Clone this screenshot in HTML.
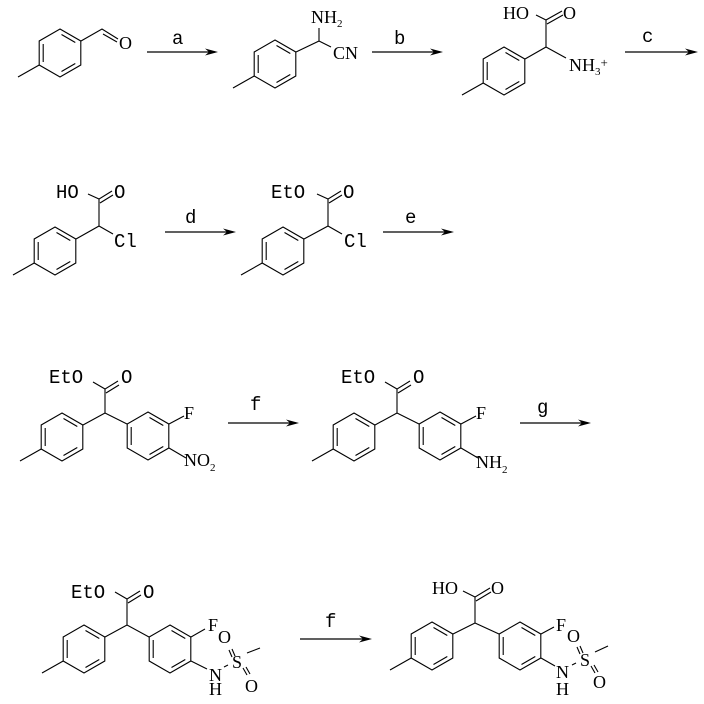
<!DOCTYPE html>
<html><head><meta charset="utf-8"><style>
html,body{margin:0;padding:0;background:#fff}
svg{display:block}
text{font-family:"Liberation Serif",serif;font-size:18px;fill:#000}
.m{font-family:"Liberation Mono",monospace;font-size:19px}
.s{font-size:11px}
</style></head><body>
<svg width="704" height="704" viewBox="0 0 704 704" xmlns="http://www.w3.org/2000/svg">
<defs>
<g id="ar" fill="none" stroke="#000" stroke-width="1.1">
<path d="M0,-24L20.8,-12L20.8,12L0,24L-20.8,12L-20.8,-12Z"/>
<path d="M1.5,-18.5L15.3,-10.5M-16.8,-9L-16.8,9M1.5,18.5L15.3,10.5"/>
</g>
<g id="rm"><use href="#ar"/><path d="M-20.8,12L-42,24" stroke="#000" stroke-width="1.1"/></g>
<path id="head" d="M-13,-3.5L0,0L-13,3.5L-9,0Z" fill="#000"/>
</defs>
<g stroke="#000" stroke-width="1.2" fill="none">
<path d="M147,52H215"/><path d="M372,52H440"/><path d="M625,52H695"/>
<path d="M165,232H233"/><path d="M383,232H451"/><path d="M228,423H296"/>
<path d="M520,423H588"/><path d="M300,639H369"/>
</g>
<use href="#head" x="218" y="52"/><use href="#head" x="443" y="52"/><use href="#head" x="698" y="52"/>
<use href="#head" x="236" y="232"/><use href="#head" x="454" y="232"/><use href="#head" x="299" y="423"/>
<use href="#head" x="591" y="423"/><use href="#head" x="372" y="639"/>
<g stroke="#000" stroke-width="1.1" fill="none">
<use href="#rm" x="60" y="53"/>
<path d="M81,41L102,29L118,39M103,34L117,42"/>
<use href="#rm" x="275" y="64"/>
<path d="M296,52L319,41L319,28M319,41L331,47"/>
<use href="#rm" x="504" y="71"/>
<path d="M525,59L546,47L546,20L562,11M547,24L563,15M546,20L536,15M546,47L566,58"/>
<use href="#rm" x="55" y="251"/>
<path d="M76,239L99,226L99,199L112,191M100,203L113,195M99,199L88,194M99,226L113,234"/>
<use href="#rm" x="283" y="251"/>
<path d="M304,239L328,226L328,199L341,191M329,203L342,195M328,199L317,194M328,226L342,234"/>
<use href="#rm" x="62" y="437"/>
<use href="#ar" x="148" y="436"/>
<path d="M83,425L105,413L127,424M105,413L105,389L118,381M106,393L119,385M105,389L93,382M169,424L184,416M169,448L186,458"/>
<use href="#rm" x="354" y="437"/>
<use href="#ar" x="440" y="436"/>
<path d="M375,425L397,413L419,424M397,413L397,389L410,381M398,393L411,385M397,389L385,382M461,424L476,416M461,448L478,458"/>
<use href="#rm" x="84" y="649"/>
<use href="#ar" x="170" y="649"/>
<path d="M105,637L127,625L149,637M127,625L127,599L140,591M128,603L141,595M127,599L115,592M191,637L205,629M191,661L207,669M224,667L228,665M229,650L232,657M232,649L235,656M243,668L247,675M246,667L250,674M247,653L260,648"/>
<use href="#rm" x="432" y="646"/>
<use href="#ar" x="520" y="646"/>
<path d="M453,634L475,623L499,634M475,623L475,597L490,588M476,601L491,592M475,597L463,591M541,634L554,627M541,658L555,666M572,665L576,663M577,647L580,654M580,646L583,653M591,666L595,673M594,665L598,672M595,652L608,646"/>
</g>
<text class="m" x="172" y="44">a</text>
<text class="m" x="394" y="44">b</text>
<text class="m" x="642" y="42">c</text>
<text class="m" x="185" y="223">d</text>
<text class="m" x="405" y="223">e</text>
<text class="m" x="250" y="410">f</text>
<text class="m" x="537" y="413">g</text>
<text class="m" x="325" y="627">f</text>

<text x="119" y="49">O</text>
<text x="311" y="23">NH<tspan class="s" dy="4">2</tspan></text>
<text x="333" y="59">CN</text>
<text x="503" y="19">HO</text>
<text x="563" y="19">O</text>
<text x="569" y="71">NH<tspan class="s" dy="4">3</tspan><tspan dy="-8" font-size="13">+</tspan></text>

<text class="m" x="56" y="198">HO</text>
<text class="m" x="114" y="198">O</text>
<text class="m" x="114" y="247">Cl</text>
<text class="m" x="271" y="198">EtO</text>
<text class="m" x="343" y="198">O</text>
<text class="m" x="344" y="247">Cl</text>

<text class="m" x="49" y="383">EtO</text>
<text class="m" x="121" y="383">O</text>
<text x="184" y="419">F</text>
<text x="184" y="466">NO<tspan class="s" dy="5">2</tspan></text>
<text class="m" x="341" y="383">EtO</text>
<text class="m" x="413" y="383">O</text>
<text x="476" y="419">F</text>
<text x="476" y="468">NH<tspan class="s" dy="5">2</tspan></text>

<text class="m" x="71" y="598">EtO</text>
<text class="m" x="143" y="598">O</text>
<text x="208" y="631">F</text>
<text x="218" y="643">O</text>
<text x="209" y="681">N</text>
<text x="209" y="695">H</text>
<text x="232" y="668">S</text>
<text x="245" y="692">O</text>

<text x="432" y="594">HO</text>
<text x="491" y="594">O</text>
<text x="556" y="631">F</text>
<text x="567" y="642">O</text>
<text x="556" y="678">N</text>
<text x="556" y="695">H</text>
<text x="580" y="666">S</text>
<text x="593" y="688">O</text>
</svg>
</body></html>
